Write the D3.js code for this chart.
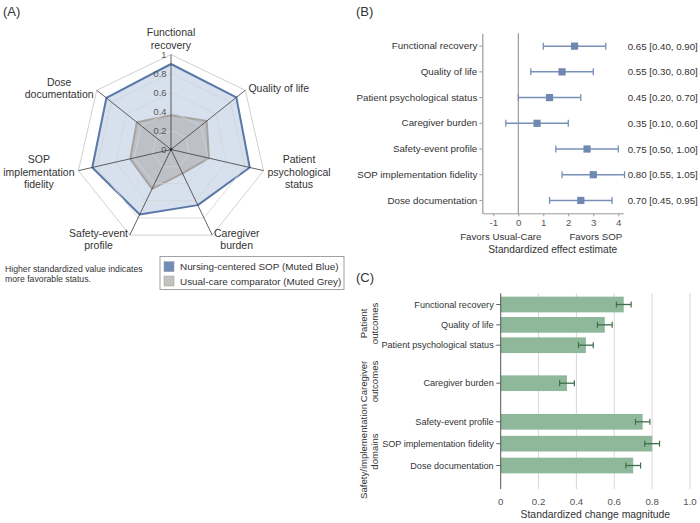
<!DOCTYPE html>
<html><head><meta charset="utf-8">
<script src="https://cdn.jsdelivr.net/npm/d3@7"></script>
<style>body{margin:0;background:#fff;} svg{display:block;font-family:"Liberation Sans",Arial,sans-serif;}</style>
</head><body><svg id="c" width="700" height="523"></svg>
<script>
// ---------- data ----------
const radarAxes = [["Functional","recovery"],["Quality of life"],["Patient","psychological","status"],["Caregiver","burden"],["Safety-event","profile"],["SOP","implementation","fidelity"],["Dose","documentation"]];
const sopValues = [0.90,0.88,0.85,0.65,0.76,0.85,0.87];
const usualValues = [0.36,0.48,0.41,0.28,0.46,0.44,0.46];
const ringTicks = [0,0.2,0.4,0.6,0.8,1];
const ringTickLabels = ["0","0.2","0.4","0.6","0.8","1"];
const legendLabels = ["Nursing-centered SOP (Muted Blue)","Usual-care comparator (Muted Grey)"];
const noteLines = ["Higher standardized value indicates","more favorable status."];

const domains = ["Functional recovery","Quality of life","Patient psychological status","Caregiver burden","Safety-event profile","SOP implementation fidelity","Dose documentation"];
const effectEst = [0.65,0.55,0.45,0.35,0.75,0.80,0.70];
const effectLo = [0.40,0.30,0.20,0.10,0.50,0.55,0.45];
const effectHi = [0.90,0.80,0.70,0.60,1.00,1.05,0.95];
const effectTicks = [0,0.2,0.4,0.6,0.8,1.0];
const effectTickLabels = ["-1","0","1","2","3","4"];

const groups = [["Patient","outcomes"],["Caregiver","outcomes"],["Safety/implementation","domains"]];
const groupOf = [0,0,0,1,2,2,2];
const changeMag = [0.65,0.55,0.45,0.35,0.75,0.80,0.70];
const changeErr = [0.039,0.039,0.039,0.039,0.038,0.039,0.039];
const changeTicks = [0,0.2,0.4,0.6,0.8,1.0];
const changeTickLabels = ["0","0.2","0.4","0.6","0.8","1.0"];

// ---------- setup ----------
const svg = d3.select("#c");
const TXT = "#333", TICK = "#555";
function panelTitle(t, x, y){ svg.append("text").attr("x",x).attr("y",y).attr("dominant-baseline","central").attr("font-size",13).attr("fill",TXT).text(t); }
panelTitle("(A)",3,11.7); panelTitle("(B)",356,11.7); panelTitle("(C)",356,277.7);

// ---------- Panel A: radar ----------
(function(){
  const cx=171, cy=149.5, n=radarAxes.length;
  const r = d3.scaleLinear().domain([0,1]).range([0,95]);
  const ang = i => i*2*Math.PI/n;
  const pt = (v,i) => [cx + r(v)*Math.sin(ang(i)), cy - r(v)*Math.cos(ang(i))];
  const g = svg.append("g");
  const line = d3.line();
  const poly = vals => line(vals.map((v,i)=>pt(v,i)).concat([pt(vals[0],0)]));
  // polygons
  g.append("path").attr("d",poly(sopValues)).attr("fill","#7a9cc8").attr("fill-opacity",0.3)
    .attr("stroke","#5a77a8").attr("stroke-width",2).attr("stroke-linejoin","round");
  g.append("path").attr("d",poly(usualValues)).attr("fill","#a09a9a").attr("fill-opacity",0.45)
    .attr("stroke","#a7a3a1").attr("stroke-width",2).attr("stroke-linejoin","round");
  // rings
  ringTicks.filter(t=>t>0).forEach(t=>{
    g.append("path").attr("d",poly(d3.range(n).map(()=>t))).attr("fill","none")
      .attr("stroke", t===1 ? "#c4c4c4" : "#cfd3d8").attr("stroke-width",0.8);
  });
  // axes
  d3.range(n).forEach(i=>{
    const p=pt(1,i);
    g.append("line").attr("x1",cx).attr("y1",cy).attr("x2",p[0]).attr("y2",p[1]).attr("stroke","#3a3a3a").attr("stroke-width",0.8);
  });
  g.append("circle").attr("cx",cx).attr("cy",cy).attr("r",1.3).attr("fill","#222");
  // ring labels
  ringTicks.forEach((t,k)=>{
    g.append("text").attr("x",cx-4.5).attr("y",cy-r(t)).attr("text-anchor","end").attr("dominant-baseline","central")
      .attr("font-size",9.3).attr("fill",TICK).text(ringTickLabels[k]);
  });
  // axis labels
  const Rl=99, lh=12.2;
  radarAxes.forEach((lines,i)=>{
    const s=Math.sin(ang(i)), c=Math.cos(ang(i));
    const px=cx+Rl*s, py=cy-Rl*c;
    const tg=g.append("g");
    const ts=lines.map(l=>tg.append("text").attr("text-anchor","middle").attr("dominant-baseline","central").attr("font-size",10.5).attr("fill",TXT).text(l));
    const w=d3.max(ts,t=>t.node().getComputedTextLength());
    let bx=px; if(s>0.1) bx=px+w/2; else if(s<-0.1) bx=px-w/2;
    const m=lines.length;
    ts.forEach((t,k)=>{
      let y;
      if(c>0.95) y=py-6-(m-1-k)*lh; else y=py+(k-(m-1)/2)*lh;
      t.attr("x",bx).attr("y",y);
    });
  });
  // legend
  const lg=svg.append("g");
  lg.append("rect").attr("x",160).attr("y",256.5).attr("width",184).attr("height",33).attr("fill","#fff").attr("stroke","#8a8a8a").attr("stroke-width",0.8);
  const sw=["#6f8db6","#c4c1be"];
  legendLabels.forEach((l,k)=>{
    const y=266.7+k*14.3;
    lg.append("rect").attr("x",164).attr("y",y-5).attr("width",10).attr("height",10).attr("fill",sw[k]).attr("stroke","#9a9a9a").attr("stroke-width",0.5);
    lg.append("text").attr("x",180).attr("y",y).attr("dominant-baseline","central").attr("font-size",9.9).attr("fill",TXT).text(l);
  });
  noteLines.forEach((l,k)=>{
    svg.append("text").attr("x",5).attr("y",269+k*10.3).attr("dominant-baseline","central").attr("font-size",8.7).attr("fill",TXT).text(l);
  });
})();

// ---------- Panel B: forest ----------
(function(){
  const top=33.3, bot=213.3, left=482.3, right=623.3;
  const x=d3.scaleLinear().domain([-0.088,1.04]).range([left,right]);
  const y=d3.scaleBand().domain(domains).range([top,bot]);
  const yc=d=>y(d)+y.bandwidth()/2;
  const g=svg.append("g");
  const AX="#9a9a9a";
  // reference line at the tick labelled "0"
  const ref=effectTicks[effectTickLabels.indexOf("0")];
  g.append("line").attr("x1",x(ref)).attr("x2",x(ref)).attr("y1",top).attr("y2",bot).attr("stroke","#7a7a7a").attr("stroke-width",0.9);
  // axes
  const xa=d3.axisBottom(x).tickValues(effectTicks).tickFormat((d,i)=>effectTickLabels[i]).tickSize(3).tickSizeOuter(0).tickPadding(3);
  const xg=g.append("g").attr("transform",`translate(0,${bot})`).call(xa);
  xg.select(".domain").attr("stroke",AX);
  xg.selectAll(".tick line").attr("stroke",AX);
  xg.selectAll(".tick text").attr("font-size",9.7).attr("fill",TICK).attr("font-family",null);
  const ya=d3.axisLeft(y).tickSize(3).tickSizeOuter(0).tickPadding(2);
  const yg=g.append("g").attr("transform",`translate(${left},0)`).call(ya);
  yg.select(".domain").attr("stroke",AX).attr("stroke-width",1.2);
  yg.selectAll(".tick line").attr("stroke",AX);
  yg.selectAll(".tick text").attr("font-size",9.8).attr("fill",TXT).attr("font-family",null);
  xg.attr("font-family",null); yg.attr("font-family",null);
  // CIs and markers
  const C="#7890b8";
  domains.forEach((d,i)=>{
    const yy=yc(d);
    g.append("line").attr("x1",x(effectLo[i])).attr("x2",x(effectHi[i])).attr("y1",yy).attr("y2",yy).attr("stroke",C).attr("stroke-width",1.5);
    [effectLo[i],effectHi[i]].forEach(v=>g.append("line").attr("x1",x(v)).attr("x2",x(v)).attr("y1",yy-3.5).attr("y2",yy+3.5).attr("stroke",C).attr("stroke-width",1.3));
    g.append("rect").attr("x",x(effectEst[i])-3.6).attr("y",yy-3.6).attr("width",7.2).attr("height",7.2).attr("fill","#6f88b1");
    g.append("text").attr("x",627.7).attr("y",yy).attr("dominant-baseline","central").attr("font-size",9.7).attr("fill",TXT)
      .text(`${effectEst[i].toFixed(2)} [${effectLo[i].toFixed(2)}, ${effectHi[i].toFixed(2)}]`);
  });
  g.append("text").attr("x",500.8).attr("y",236.5).attr("text-anchor","middle").attr("dominant-baseline","central").attr("font-size",9.7).attr("fill",TXT).text("Favors Usual-Care");
  g.append("text").attr("x",595.8).attr("y",236.5).attr("text-anchor","middle").attr("dominant-baseline","central").attr("font-size",9.7).attr("fill",TXT).text("Favors SOP");
  g.append("text").attr("x",(left+right)/2).attr("y",249.3).attr("text-anchor","middle").attr("dominant-baseline","central").attr("font-size",10.2).attr("fill",TXT).text("Standardized effect estimate");
})();

// ---------- Panel C: bars ----------
(function(){
  const top=293.3, bot=489, left=500.7, right=690;
  const x=d3.scaleLinear().domain([0,1]).range([left,right]);
  // per-group vertical layout (pixel ranges of item centres, and of group label regions)
  const groupItemRange=[[304.5,345.2],[383.2,383.2],[421.8,465.5]];
  const groupRegion=[[293.3,353.5],[365,398],[414,489]];
  const ys=groups.map((gname,k)=>d3.scalePoint().domain(domains.filter((d,i)=>groupOf[i]===k)).range(groupItemRange[k]));
  const yc=i=>ys[groupOf[i]](domains[i]);
  const g=svg.append("g");
  // grid
  changeTicks.filter(t=>t>0).forEach(t=>g.append("line").attr("x1",x(t)).attr("x2",x(t)).attr("y1",top).attr("y2",bot).attr("stroke","#d4d4d4").attr("stroke-width",0.9));
  // bars
  const bh=15.7;
  domains.forEach((d,i)=>{
    g.append("rect").attr("x",x(0)).attr("y",yc(i)-bh/2).attr("width",x(changeMag[i])-x(0)).attr("height",bh).attr("fill","#8fb89b");
  });
  // error bars
  const E="#3f6e4b";
  domains.forEach((d,i)=>{
    const yy=yc(i), a=x(changeMag[i]-changeErr[i]), b=x(changeMag[i]+changeErr[i]);
    g.append("line").attr("x1",a).attr("x2",b).attr("y1",yy).attr("y2",yy).attr("stroke",E).attr("stroke-width",1.3);
    [a,b].forEach(v=>g.append("line").attr("x1",v).attr("x2",v).attr("y1",yy-3).attr("y2",yy+3).attr("stroke",E).attr("stroke-width",1.2));
  });
  // left axis
  g.append("line").attr("x1",left).attr("x2",left).attr("y1",top).attr("y2",bot).attr("stroke","#555").attr("stroke-width",1);
  domains.forEach((d,i)=>{
    g.append("line").attr("x1",left-4.5).attr("x2",left).attr("y1",yc(i)).attr("y2",yc(i)).attr("stroke","#555").attr("stroke-width",0.9);
    g.append("text").attr("x",left-7).attr("y",yc(i)).attr("text-anchor","end").attr("dominant-baseline","central").attr("font-size",9.1).attr("fill",TXT).text(d);
  });
  // x tick labels
  changeTicks.forEach((t,k)=>g.append("text").attr("x",x(t)).attr("y",501).attr("text-anchor","middle").attr("dominant-baseline","central").attr("font-size",9.7).attr("fill",TICK).text(changeTickLabels[k]));
  g.append("text").attr("x",(left+right)/2).attr("y",514).attr("text-anchor","middle").attr("dominant-baseline","central").attr("font-size",10.4).attr("fill",TXT).text("Standardized change magnitude");
  // group labels
  groups.forEach((lines,k)=>{
    const cy=(groupRegion[k][0]+groupRegion[k][1])/2;
    lines.forEach((l,j)=>{
      const xx=363.3+j*10.7;
      g.append("text").attr("transform",`translate(${xx},${cy}) rotate(-90)`).attr("text-anchor","middle").attr("dominant-baseline","central").attr("font-size",9.6).attr("fill",TXT).text(l);
    });
  });
})();
</script></body></html>
